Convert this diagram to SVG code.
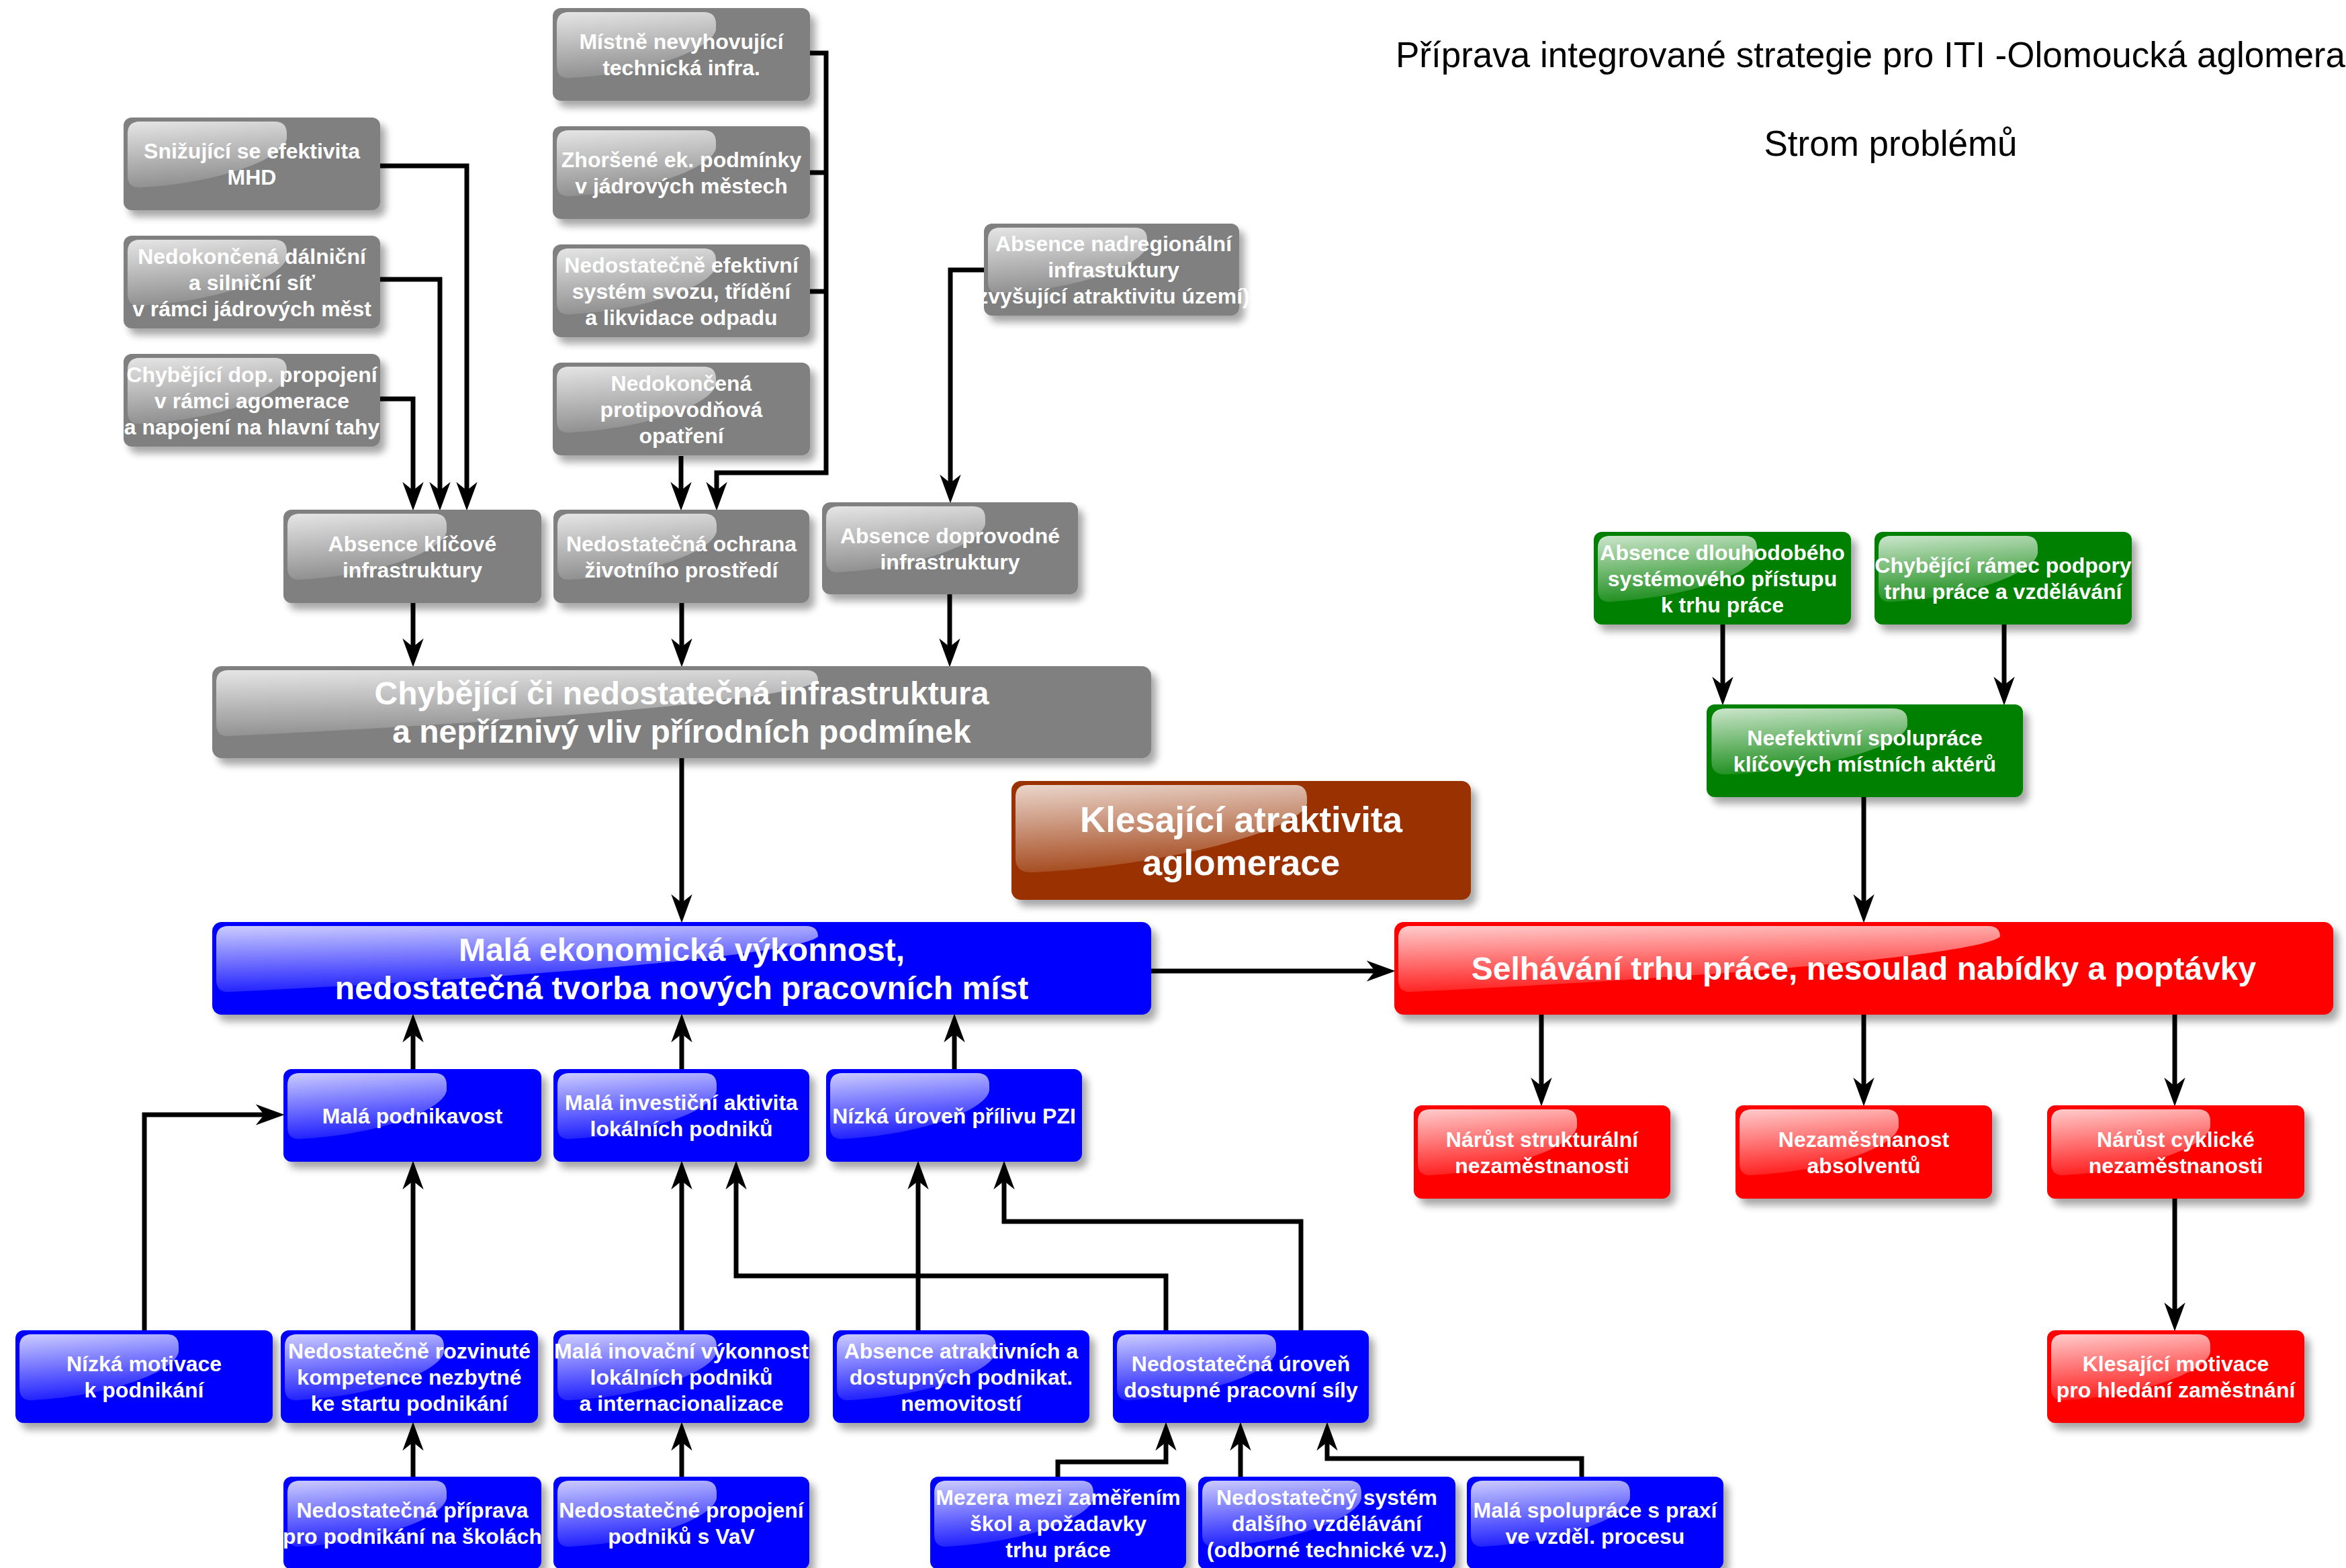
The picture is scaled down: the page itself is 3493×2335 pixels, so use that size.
<svg xmlns="http://www.w3.org/2000/svg" xmlns:xlink="http://www.w3.org/1999/xlink" width="3493" height="2335" viewBox="0 0 3493 2335">
<style>
.bx{filter:url(#sh)}
.gray{fill:#808080}
.blue{fill:#0000FF}
.red{fill:#FF0000}
.green{fill:#008000}
.brown{fill:#993300}
.t{font-family:"Liberation Sans",Arial,sans-serif;font-weight:bold;font-size:32px;fill:#fff;text-anchor:middle}
.L{font-size:48px}
.B{font-size:53px}
.title{font-family:"Liberation Sans",Arial,sans-serif;font-size:53px;fill:#000}
.c{fill:none;stroke:#000;stroke-width:7;stroke-linejoin:miter;marker-end:url(#ah)}
.j{fill:none;stroke:#000;stroke-width:7}
</style>
<defs>
<filter id="sh" x="-5%" y="-10%" width="115%" height="150%">
<feGaussianBlur in="SourceAlpha" stdDeviation="6"/>
<feOffset dx="8" dy="10" result="o"/>
<feComponentTransfer><feFuncA type="linear" slope="0.35"/></feComponentTransfer>
<feMerge><feMergeNode/><feMergeNode in="SourceGraphic"/></feMerge>
</filter>
<linearGradient id="hg" x1="0" y1="0" x2="0.2" y2="1">
<stop offset="0" stop-color="#fff" stop-opacity="0.8"/>
<stop offset="1" stop-color="#fff" stop-opacity="0.12"/>
</linearGradient>
<path id="hlS" fill="url(#hg)" d="M6,24 Q6,6 24,6 L225,6 Q243,6 243,24 L243,32 C238,62 140,98 26,104 Q6,106 6,86 Z"/>
<path id="hlW" fill="url(#hg)" d="M6,24 Q6,6 24,6 L884,6 Q902,6 902,22 C870,48 520,80 26,104 Q6,106 6,86 Z"/>
<path id="hlB" fill="url(#hg)" d="M6,24 Q6,6 24,6 L422,6 Q440,6 440,26 L440,34 C428,75 220,128 30,136 Q6,137 6,114 Z"/>
<marker id="ah" markerUnits="userSpaceOnUse" markerWidth="44" markerHeight="34" viewBox="0 0 42 32" refX="28" refY="16" orient="auto">
<path d="M0,1 L41,16 L0,31 L12,16 Z" fill="#000"/>
</marker>
</defs>
<rect width="3493" height="2335" fill="#fff"/>

<text class="title" x="2078" y="100">Příprava integrované strategie pro ITI -Olomoucká aglomerace</text>
<text class="title" x="2815" y="232" text-anchor="middle">Strom problémů</text>

<g id="connectors">
<path class="c" d="M566,247 H695 V747"/>
<path class="c" d="M566,416 H655 V747"/>
<path class="c" d="M566,594 H615 V747"/>
<path class="c" d="M1206,79 H1230 V704 H1067 V747"/>
<path class="j" d="M1206,257 H1230"/>
<path class="j" d="M1206,434 H1230"/>
<path class="c" d="M1014,679 V747"/>
<path class="c" d="M1465,402 H1415 V736"/>
<path class="c" d="M615,898 V980"/>
<path class="c" d="M1015,898 V980"/>
<path class="c" d="M1414,885 V980"/>
<path class="c" d="M1015,1129 V1361"/>
<path class="c" d="M1714,1446 H2064"/>
<path class="c" d="M615,1592 V1523"/>
<path class="c" d="M1015,1592 V1523"/>
<path class="c" d="M1421,1592 V1523"/>
<path class="c" d="M215,1981 V1660 H410"/>
<path class="c" d="M615,1981 V1742"/>
<path class="c" d="M1015,1981 V1742"/>
<path class="c" d="M1736,1981 V1900 H1096 V1742"/>
<path class="c" d="M1367,1981 V1742"/>
<path class="c" d="M1937,1981 V1819 H1495 V1742"/>
<path class="c" d="M615,2199 V2131"/>
<path class="c" d="M1015,2199 V2131"/>
<path class="c" d="M1575,2199 V2177 H1736 V2131"/>
<path class="c" d="M1847,2199 V2131"/>
<path class="c" d="M2355,2199 V2172 H1976 V2131"/>
<path class="c" d="M2565,930 V1037"/>
<path class="c" d="M2984,930 V1037"/>
<path class="c" d="M2775,1187 V1361"/>
<path class="c" d="M2295,1511 V1634"/>
<path class="c" d="M2775,1511 V1634"/>
<path class="c" d="M3238,1511 V1634"/>
<path class="c" d="M3238,1785 V1969"/>
</g>

<g id="n-mistne"><rect class="bx gray" x="823" y="12" width="383" height="138" rx="12"/><use href="#hlS" x="823" y="12"/>
<text class="t"><tspan x="1014.5" y="73">Místně nevyhovující</tspan><tspan x="1014.5" y="112">technická infra.</tspan></text></g>
<g id="n-zhorsene"><rect class="bx gray" x="823" y="188" width="383" height="138" rx="12"/><use href="#hlS" x="823" y="188"/>
<text class="t"><tspan x="1014.5" y="249">Zhoršené ek. podmínky</tspan><tspan x="1014.5" y="288">v jádrových městech</tspan></text></g>
<g id="n-odpad"><rect class="bx gray" x="823" y="364" width="383" height="138" rx="12"/><use href="#hlS" x="823" y="364"/>
<text class="t"><tspan x="1014.5" y="405.5">Nedostatečně efektivní</tspan><tspan x="1014.5" y="444.5">systém svozu, třídění</tspan><tspan x="1014.5" y="483.5">a likvidace odpadu</tspan></text></g>
<g id="n-povodne"><rect class="bx gray" x="823" y="540" width="383" height="138" rx="12"/><use href="#hlS" x="823" y="540"/>
<text class="t"><tspan x="1014.5" y="581.5">Nedokončená</tspan><tspan x="1014.5" y="620.5">protipovodňová</tspan><tspan x="1014.5" y="659.5">opatření</tspan></text></g>
<g id="n-mhd"><rect class="bx gray" x="184" y="175" width="382" height="138" rx="12"/><use href="#hlS" x="184" y="175"/>
<text class="t"><tspan x="375" y="236">Snižující se efektivita</tspan><tspan x="375" y="275">MHD</tspan></text></g>
<g id="n-dalnice"><rect class="bx gray" x="184" y="351" width="382" height="138" rx="12"/><use href="#hlS" x="184" y="351"/>
<text class="t"><tspan x="375" y="392.5">Nedokončená dálniční</tspan><tspan x="375" y="431.5">a silniční síť</tspan><tspan x="375" y="470.5">v rámci jádrových měst</tspan></text></g>
<g id="n-propojeni"><rect class="bx gray" x="184" y="527" width="382" height="138" rx="12"/><use href="#hlS" x="184" y="527"/>
<text class="t"><tspan x="375" y="568.5">Chybějící dop. propojení</tspan><tspan x="375" y="607.5">v rámci agomerace</tspan><tspan x="375" y="646.5">a napojení na hlavní tahy</tspan></text></g>
<g id="n-nadregionalni"><rect class="bx gray" x="1465" y="333" width="380" height="137" rx="12"/><use href="#hlS" x="1465" y="333"/>
<text class="t"><tspan x="1658" y="374">Absence nadregionální</tspan><tspan x="1658" y="413">infrastuktury</tspan><tspan x="1658" y="452">zvyšující atraktivitu území)</tspan></text></g>
<g id="n-klicova"><rect class="bx gray" x="422" y="759" width="384" height="139" rx="12"/><use href="#hlS" x="422" y="759"/>
<text class="t"><tspan x="614" y="820.5">Absence klíčové</tspan><tspan x="614" y="859.5">infrastruktury</tspan></text></g>
<g id="n-ochrana"><rect class="bx gray" x="824" y="759" width="381" height="139" rx="12"/><use href="#hlS" x="824" y="759"/>
<text class="t"><tspan x="1014.5" y="820.5">Nedostatečná ochrana</tspan><tspan x="1014.5" y="859.5">životního prostředí</tspan></text></g>
<g id="n-doprovodna"><rect class="bx gray" x="1224" y="748" width="381" height="137" rx="12"/><use href="#hlS" x="1224" y="748"/>
<text class="t"><tspan x="1414.5" y="808.5">Absence doprovodné</tspan><tspan x="1414.5" y="847.5">infrastruktury</tspan></text></g>
<g id="n-infrastruktura"><rect class="bx gray" x="316" y="992" width="1398" height="137" rx="14"/><use href="#hlW" x="316" y="992"/>
<text class="t L"><tspan x="1015" y="1049">Chybějící či nedostatečná infrastruktura</tspan><tspan x="1015" y="1106">a nepříznivý vliv přírodních podmínek</tspan></text></g>

<g id="n-vykonnost"><rect class="bx blue" x="316" y="1373" width="1398" height="138" rx="14"/><use href="#hlW" x="316" y="1373"/>
<text class="t L"><tspan x="1015" y="1430.5">Malá ekonomická výkonnost,</tspan><tspan x="1015" y="1487.5">nedostatečná tvorba nových pracovních míst</tspan></text></g>
<g id="n-atraktivita"><rect class="bx brown" x="1506" y="1163" width="684" height="177" rx="14"/><use href="#hlB" x="1506" y="1163"/>
<text class="t B"><tspan x="1848" y="1238.5">Klesající atraktivita</tspan><tspan x="1848" y="1302.5">aglomerace</tspan></text></g>
<g id="n-selhavani"><rect class="bx red" x="2076" y="1373" width="1398" height="138" rx="14"/><use href="#hlW" x="2076" y="1373"/>
<text class="t L" x="2775" y="1459">Selhávání trhu práce, nesoulad nabídky a poptávky</text></g>

<g id="n-dlouhodoby"><rect class="bx green" x="2373" y="792" width="383" height="138" rx="12"/><use href="#hlS" x="2373" y="792"/>
<text class="t"><tspan x="2564.5" y="833.5">Absence dlouhodobého</tspan><tspan x="2564.5" y="872.5">systémového přístupu</tspan><tspan x="2564.5" y="911.5">k trhu práce</tspan></text></g>
<g id="n-ramec"><rect class="bx green" x="2791" y="792" width="383" height="138" rx="12"/><use href="#hlS" x="2791" y="792"/>
<text class="t"><tspan x="2982.5" y="853">Chybějící rámec podpory</tspan><tspan x="2982.5" y="892">trhu práce a vzdělávání</tspan></text></g>
<g id="n-spoluprace-akteru"><rect class="bx green" x="2541" y="1049" width="471" height="138" rx="12"/><use href="#hlS" transform="translate(2541,1049) scale(1.23,1)"/>
<text class="t"><tspan x="2776.5" y="1110">Neefektivní spolupráce</tspan><tspan x="2776.5" y="1149">klíčových místních aktérů</tspan></text></g>

<g id="n-strukturalni"><rect class="bx red" x="2105" y="1646" width="382" height="139" rx="12"/><use href="#hlS" x="2105" y="1646"/>
<text class="t"><tspan x="2296" y="1707.5">Nárůst strukturální</tspan><tspan x="2296" y="1746.5">nezaměstnanosti</tspan></text></g>
<g id="n-absolventi"><rect class="bx red" x="2584" y="1646" width="382" height="139" rx="12"/><use href="#hlS" x="2584" y="1646"/>
<text class="t"><tspan x="2775" y="1707.5">Nezaměstnanost</tspan><tspan x="2775" y="1746.5">absolventů</tspan></text></g>
<g id="n-cyklicka"><rect class="bx red" x="3048" y="1646" width="383" height="139" rx="12"/><use href="#hlS" x="3048" y="1646"/>
<text class="t"><tspan x="3239.5" y="1707.5">Nárůst cyklické</tspan><tspan x="3239.5" y="1746.5">nezaměstnanosti</tspan></text></g>
<g id="n-motivace-zam"><rect class="bx red" x="3048" y="1981" width="383" height="138" rx="12"/><use href="#hlS" x="3048" y="1981"/>
<text class="t"><tspan x="3239.5" y="2042">Klesající motivace</tspan><tspan x="3239.5" y="2081">pro hledání zaměstnání</tspan></text></g>

<g id="n-podnikavost"><rect class="bx blue" x="422" y="1592" width="384" height="138" rx="12"/><use href="#hlS" x="422" y="1592"/>
<text class="t" x="614" y="1672.5">Malá podnikavost</text></g>
<g id="n-investicni"><rect class="bx blue" x="824" y="1592" width="381" height="138" rx="12"/><use href="#hlS" x="824" y="1592"/>
<text class="t"><tspan x="1014.5" y="1653">Malá investiční aktivita</tspan><tspan x="1014.5" y="1692">lokálních podniků</tspan></text></g>
<g id="n-pzi"><rect class="bx blue" x="1230" y="1592" width="381" height="138" rx="12"/><use href="#hlS" x="1230" y="1592"/>
<text class="t" x="1420.5" y="1672.5">Nízká úroveň přílivu PZI</text></g>

<g id="n-motivace"><rect class="bx blue" x="23" y="1981" width="383" height="138" rx="12"/><use href="#hlS" x="23" y="1981"/>
<text class="t"><tspan x="214.5" y="2042">Nízká motivace</tspan><tspan x="214.5" y="2081">k podnikání</tspan></text></g>
<g id="n-kompetence"><rect class="bx blue" x="418" y="1981" width="383" height="138" rx="12"/><use href="#hlS" x="418" y="1981"/>
<text class="t"><tspan x="609.5" y="2022.5">Nedostatečně rozvinuté</tspan><tspan x="609.5" y="2061.5">kompetence nezbytné</tspan><tspan x="609.5" y="2100.5">ke startu podnikání</tspan></text></g>
<g id="n-inovacni"><rect class="bx blue" x="824" y="1981" width="381" height="138" rx="12"/><use href="#hlS" x="824" y="1981"/>
<text class="t"><tspan x="1014.5" y="2022.5">Malá inovační výkonnost</tspan><tspan x="1014.5" y="2061.5">lokálních podniků</tspan><tspan x="1014.5" y="2100.5">a internacionalizace</tspan></text></g>
<g id="n-nemovitosti"><rect class="bx blue" x="1240" y="1981" width="382" height="138" rx="12"/><use href="#hlS" x="1240" y="1981"/>
<text class="t"><tspan x="1431" y="2022.5">Absence atraktivních a</tspan><tspan x="1431" y="2061.5">dostupných podnikat.</tspan><tspan x="1431" y="2100.5">nemovitostí</tspan></text></g>
<g id="n-pracovni-sila"><rect class="bx blue" x="1657" y="1981" width="381" height="138" rx="12"/><use href="#hlS" x="1657" y="1981"/>
<text class="t"><tspan x="1847.5" y="2042">Nedostatečná úroveň</tspan><tspan x="1847.5" y="2081">dostupné pracovní síly</tspan></text></g>

<g id="n-priprava"><rect class="bx blue" x="422" y="2199" width="384" height="138" rx="12"/><use href="#hlS" x="422" y="2199"/>
<text class="t"><tspan x="614" y="2260">Nedostatečná příprava</tspan><tspan x="614" y="2299">pro podnikání na školách</tspan></text></g>
<g id="n-vav"><rect class="bx blue" x="824" y="2199" width="381" height="138" rx="12"/><use href="#hlS" x="824" y="2199"/>
<text class="t"><tspan x="1014.5" y="2260">Nedostatečné propojení</tspan><tspan x="1014.5" y="2299">podniků s VaV</tspan></text></g>
<g id="n-mezera"><rect class="bx blue" x="1385" y="2199" width="381" height="138" rx="12"/><use href="#hlS" x="1385" y="2199"/>
<text class="t"><tspan x="1575.5" y="2240.5">Mezera mezi zaměřením</tspan><tspan x="1575.5" y="2279.5">škol a požadavky</tspan><tspan x="1575.5" y="2318.5">trhu práce</tspan></text></g>
<g id="n-vzdelavani"><rect class="bx blue" x="1784" y="2199" width="383" height="138" rx="12"/><use href="#hlS" x="1784" y="2199"/>
<text class="t"><tspan x="1975.5" y="2240.5">Nedostatečný systém</tspan><tspan x="1975.5" y="2279.5">dalšího vzdělávání</tspan><tspan x="1975.5" y="2318.5">(odborné technické vz.)</tspan></text></g>
<g id="n-praxe"><rect class="bx blue" x="2184" y="2199" width="382" height="138" rx="12"/><use href="#hlS" x="2184" y="2199"/>
<text class="t"><tspan x="2375" y="2260">Malá spolupráce s praxí</tspan><tspan x="2375" y="2299">ve vzděl. procesu</tspan></text></g>
</svg>
